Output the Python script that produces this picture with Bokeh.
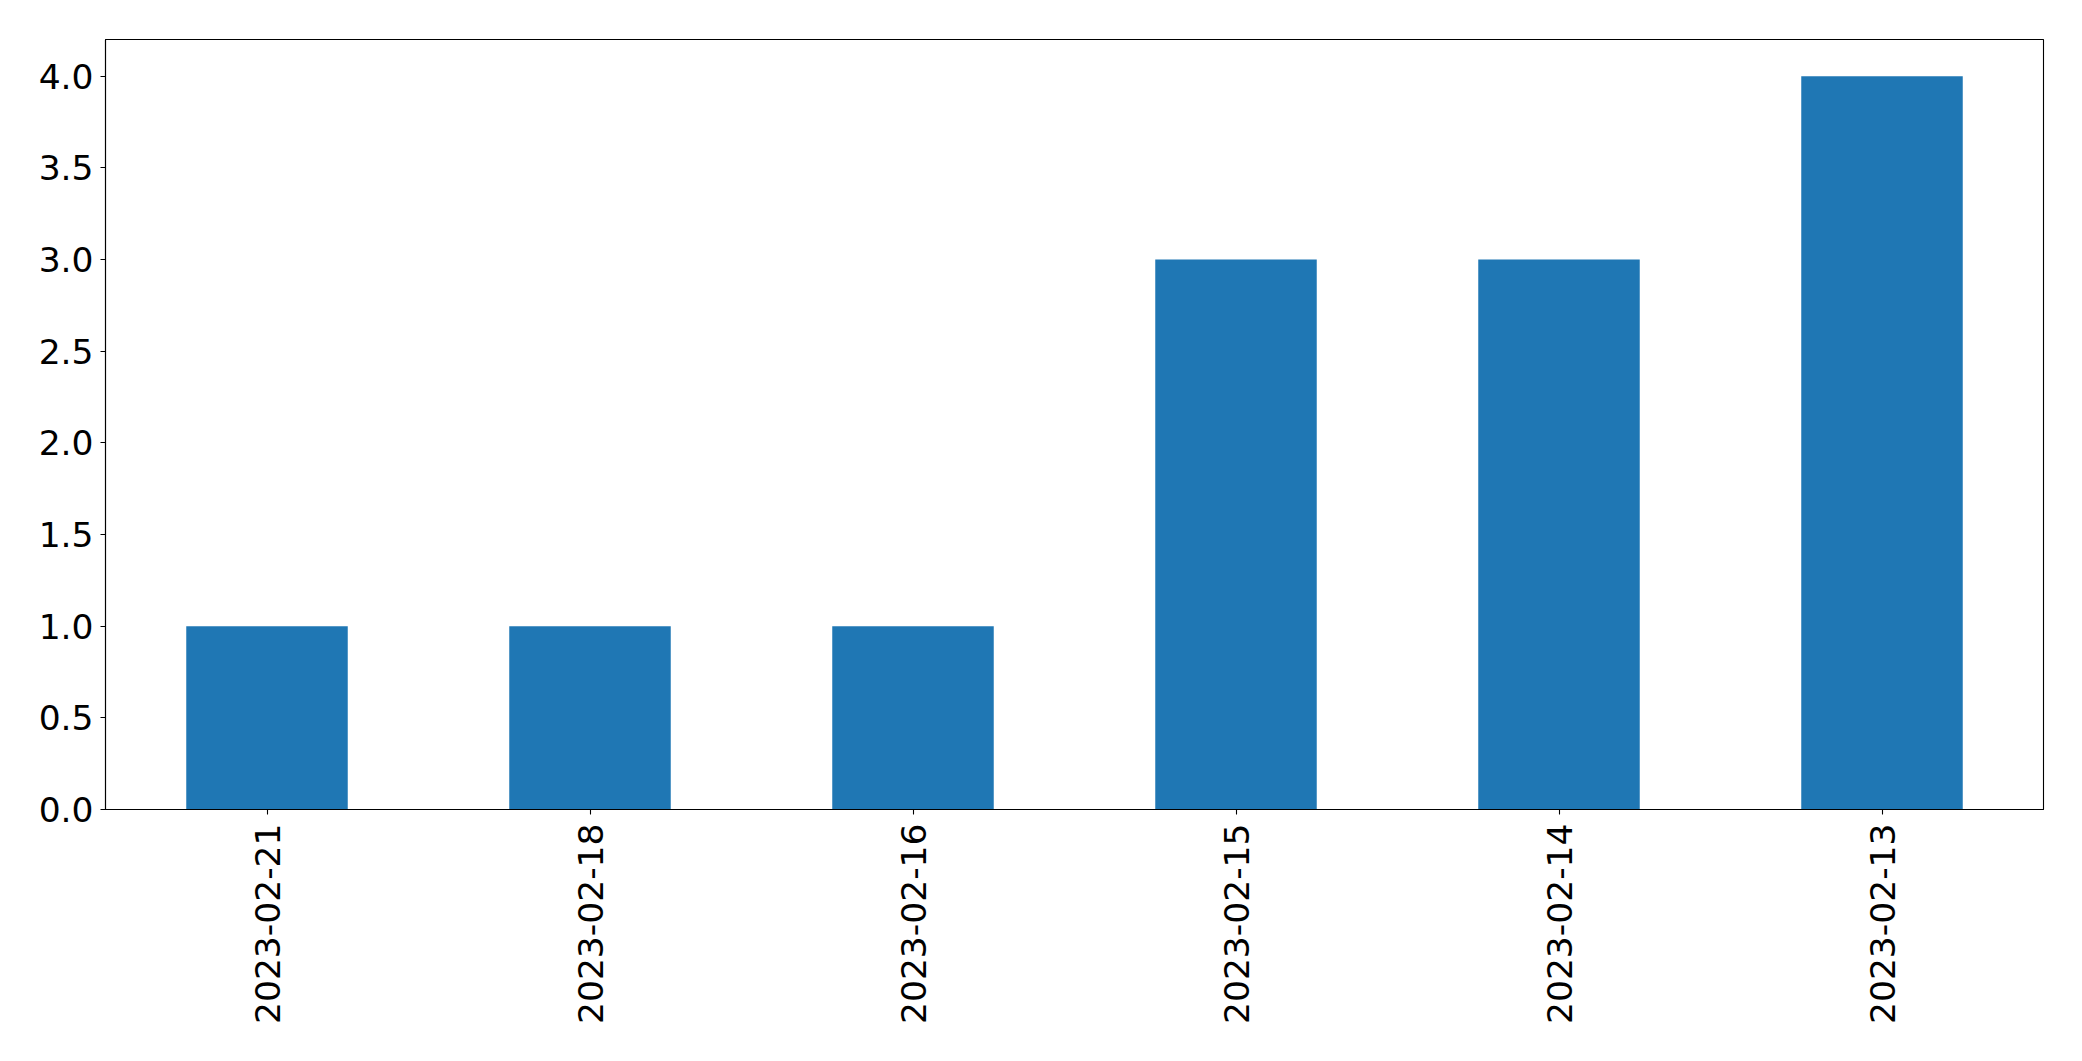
import math
from bokeh.plotting import figure
from bokeh.models import FactorRange, Range1d, FixedTicker, NumeralTickFormatter, ColumnDataSource
from bokeh.embed import file_html
from bokeh.resources import INLINE

dates = ["2023-02-21", "2023-02-18", "2023-02-16", "2023-02-15", "2023-02-14", "2023-02-13"]
counts = [1, 1, 1, 3, 3, 4]
y_ticks = [0.0, 0.5, 1.0, 1.5, 2.0, 2.5, 3.0, 3.5, 4.0]

src = ColumnDataSource(data=dict(x=dates, top=counts))

p = figure(
    width=2066, height=1045,
    x_range=FactorRange(factors=dates, range_padding=0),
    y_range=Range1d(0, 4.2),
    output_backend="svg", toolbar_location=None,
    min_border_left=105, min_border_right=23, min_border_top=39, min_border_bottom=236,
)
p.vbar(x="x", top="top", width=0.5, source=src, color="#1f77b4", line_color=None)

p.xgrid.visible = False
p.ygrid.visible = False
p.outline_line_color = "black"
p.outline_line_width = 1.1
p.outline_line_alpha = 1

for ax in (p.xaxis[0], p.yaxis[0]):
    ax.axis_line_color = "black"
    ax.axis_line_width = 1.1
    ax.major_tick_line_color = "black"
    ax.major_tick_line_width = 1.1
    ax.major_tick_in = 0
    ax.major_tick_out = 5
    ax.minor_tick_line_color = None
    ax.major_label_text_font = "DejaVu Sans"
    ax.major_label_text_font_size = "34.5px"
    ax.major_label_text_color = "black"

p.yaxis[0].ticker = FixedTicker(ticks=y_ticks)
p.yaxis[0].formatter = NumeralTickFormatter(format="0.0")
p.yaxis[0].major_label_standoff = 7
p.xaxis[0].major_label_orientation = math.pi / 2
p.xaxis[0].major_label_standoff = 9
p.xaxis[0].group_text_font_size = "0px"

open("out.html", "w").write(file_html(p, INLINE))
